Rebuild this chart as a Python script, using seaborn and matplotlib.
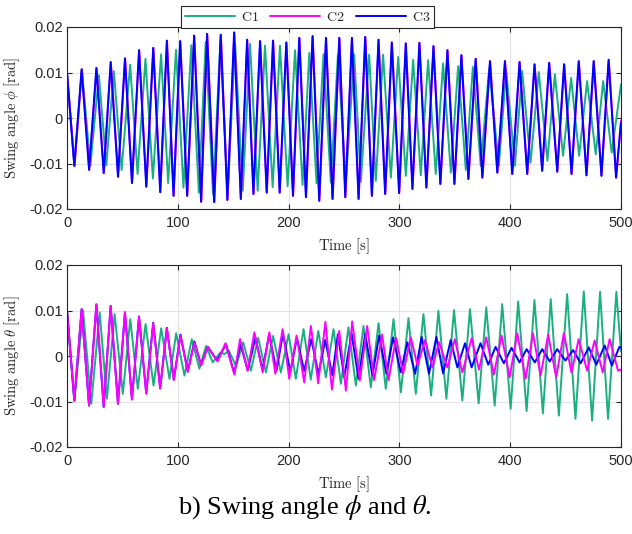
import numpy as np
import pandas as pd
import matplotlib
matplotlib.use("Agg")
import matplotlib.pyplot as plt
import seaborn as sns
from matplotlib.ticker import FixedLocator, FixedFormatter

# ---------------- data (extrema) ----------------
series_names = ["C1", "C2", "C3"]
series_colors = ["#1aaf80", "#ff00ff", "#0000ff"]

# top panel: swing angle phi [rad]
phi_c1_t = [0, 6.6, 13.4, 21.1, 28.8, 35.5, 42.3, 49.3, 57.0, 63.7, 70.8, 77.5, 84.9, 91.3, 98.4, 105.1,
            112.2, 119.0, 125.2, 131.8, 138.4, 145.0, 151.7, 158.6, 165.2, 172.1, 178.7, 185.6, 192.2,
            199.1, 205.8, 212.6, 218.7, 225.2, 231.5, 238.1, 244.5, 251.7, 259.2, 265.2, 272.7, 278.7,
            285.3, 292.3, 298.9, 305.8, 312.4, 319.3, 325.9, 332.8, 339.4, 346.4, 353.0, 359.9, 366.3,
            373.4, 381.0, 389.8, 396.4, 404.3, 410.8, 418.4, 425.8, 433.6, 440.3, 447.7, 455.0, 462.2,
            469.4, 477.2, 483.9, 491.6, 500]
phi_c1_v = [0.0100, -0.0105, 0.0106, -0.0105, 0.0094, -0.0104, 0.0103, -0.0114, 0.0117, -0.0123, 0.0130,
            -0.0133, 0.0140, -0.0143, 0.0150, -0.0153, 0.0160, -0.0164, 0.0167, -0.0168, 0.0168, -0.0166,
            0.0165, -0.0160, 0.0163, -0.0160, 0.0159, -0.0152, 0.0159, -0.0150, 0.0149, -0.0147, 0.0143,
            -0.0143, 0.0140, -0.0142, 0.0138, -0.0140, 0.0140, -0.0140, 0.0139, -0.0138, 0.0139, -0.0131,
            0.0134, -0.0127, 0.0128, -0.0126, 0.0127, -0.0123, 0.0120, -0.0120, 0.0114, -0.0114, 0.0112,
            -0.0105, 0.0108, -0.0105, 0.0105, -0.0105, 0.0103, -0.0098, 0.0101, -0.0094, 0.0096, -0.0083,
            0.0088, -0.0083, 0.0081, -0.0080, 0.0081, -0.0076, 0.0074]

phi_c2_t = [0, 6.8, 13.4, 20.1, 26.7, 33.3, 39.6, 46.2, 52.5, 58.8, 65.2, 71.7, 78.0, 84.3, 90.3, 96.3,
            102.3, 108.6, 114.9, 121.2, 126.6, 133.0, 138.9, 144.9, 151.0, 157.0, 162.7, 168.4, 174.4,
            180.4, 186.1, 192.1, 198.1, 204.1, 209.8, 215.8, 221.8, 227.8, 233.9, 239.8, 245.9, 251.3,
            257.3, 263.3, 269.3, 275.3, 281.3, 287.3, 293.3, 299.9, 305.9, 311.9, 318.2, 324.5, 330.9,
            337.1, 343.5, 349.8, 356.1, 362.4, 369.0, 375.0, 381.9, 388.5, 395.4, 402.0, 408.6, 415.5,
            422.1, 429.0, 435.3, 442.6, 448.8, 455.5, 462.0, 469.0, 475.5, 482.5, 489.0, 495.7, 500]
phi_c2_v = [0.0100, -0.0106, 0.0107, -0.0114, 0.0110, -0.0121, 0.0123, -0.0129, 0.0131, -0.0143, 0.0149,
            -0.0151, 0.0154, -0.0163, 0.0170, -0.0171, 0.0169, -0.0171, 0.0181, -0.0184, 0.0185, -0.0185,
            0.0183, -0.0180, 0.0188, -0.0178, 0.0172, -0.0167, 0.0169, -0.0164, 0.0170, -0.0164, 0.0166,
            -0.0171, 0.0176, -0.0174, 0.0180, -0.0182, 0.0176, -0.0178, 0.0176, -0.0174, 0.0176, -0.0178,
            0.0178, -0.0171, 0.0172, -0.0167, 0.0166, -0.0165, 0.0164, -0.0156, 0.0165, -0.0153, 0.0158,
            -0.0145, 0.0149, -0.0145, 0.0138, -0.0134, 0.0130, -0.0131, 0.0125, -0.0120, 0.0125, -0.0123,
            0.0123, -0.0123, 0.0118, -0.0116, 0.0121, -0.0118, 0.0118, -0.0123, 0.0125, -0.0126, 0.0125,
            -0.0127, 0.0128, -0.0131, -0.0006]

phi_c3_t = [0, 6.6, 13.2, 19.9, 26.5, 33.1, 39.4, 46.0, 52.3, 58.6, 65.0, 71.5, 77.8, 84.1, 90.1, 96.1,
            102.1, 108.4, 114.7, 121.0, 126.4, 132.8, 138.7, 144.7, 150.8, 156.8, 162.5, 168.2, 174.2,
            180.2, 185.9, 191.9, 197.9, 203.9, 209.6, 215.6, 221.6, 227.6, 233.7, 239.6, 245.7, 251.1,
            257.1, 263.1, 269.1, 275.1, 281.1, 287.1, 293.1, 299.7, 305.7, 311.7, 318.0, 324.3, 330.7,
            336.9, 343.3, 349.6, 355.9, 362.2, 368.8, 374.8, 381.7, 388.3, 395.2, 401.8, 408.4, 415.3,
            421.9, 428.8, 435.1, 442.4, 448.6, 455.3, 461.8, 468.8, 475.3, 482.3, 488.8, 495.5, 500]
phi_c3_v = [0.0100, -0.0105, 0.0107, -0.0114, 0.0110, -0.0121, 0.0123, -0.0129, 0.0131, -0.0143, 0.0149,
            -0.0151, 0.0154, -0.0163, 0.0170, -0.0171, 0.0169, -0.0171, 0.0181, -0.0184, 0.0185, -0.0185,
            0.0183, -0.0180, 0.0188, -0.0178, 0.0172, -0.0167, 0.0169, -0.0164, 0.0170, -0.0164, 0.0166,
            -0.0171, 0.0176, -0.0174, 0.0180, -0.0182, 0.0176, -0.0178, 0.0176, -0.0174, 0.0176, -0.0178,
            0.0178, -0.0171, 0.0172, -0.0167, 0.0166, -0.0165, 0.0164, -0.0156, 0.0165, -0.0153, 0.0158,
            -0.0145, 0.0149, -0.0145, 0.0138, -0.0134, 0.0130, -0.0131, 0.0125, -0.0120, 0.0125, -0.0123,
            0.0123, -0.0123, 0.0118, -0.0116, 0.0121, -0.0118, 0.0118, -0.0123, 0.0125, -0.0126, 0.0125,
            -0.0127, 0.0128, -0.0131, -0.0010]

# bottom panel: swing angle theta [rad]
theta_c1_t = [0, 6.6, 14.5, 21.9, 29.5, 36.0, 43.0, 50.4, 57.1, 63.9, 70.9, 78.1, 85.0, 92.5, 98.5, 106.0,
              112.6, 119.5, 125.5, 131.6, 138.5, 142.0, 146.0, 152.5, 159.0, 166.0, 172.5, 179.5, 186.0,
              193.0, 200.0, 206.5, 213.5, 220.0, 226.8, 233.6, 240.5, 247.2, 254.0, 260.7, 267.6, 274.2,
              281.2, 287.7, 294.7, 301.3, 308.2, 314.8, 321.7, 328.6, 335.2, 342.4, 349.3, 356.8, 363.7,
              371.5, 378.4, 386.0, 392.8, 400.4, 407.2, 414.8, 421.9, 429.5, 436.6, 443.9, 451.4, 458.9,
              466.4, 473.9, 481.1, 488.3, 495.8, 500]
theta_c1_v = [0.0100, -0.0098, 0.0100, -0.0105, 0.0096, -0.0094, 0.0092, -0.0083, 0.0081, -0.0072, 0.0070,
              -0.0065, 0.0061, -0.0050, 0.0050, -0.0043, 0.0037, -0.0028, 0.0022, -0.0014, 0.0008, 0.0004,
              0.0012, -0.0022, 0.0030, -0.0032, 0.0040, -0.0036, 0.0044, -0.0036, 0.0048, -0.0050, 0.0059,
              -0.0052, 0.0055, -0.0047, 0.0059, -0.0061, 0.0063, -0.0065, 0.0066, -0.0069, 0.0072, -0.0072,
              0.0081, -0.0080, 0.0083, -0.0083, 0.0092, -0.0087, 0.0099, -0.0094, 0.0101, -0.0098, 0.0103,
              -0.0104, 0.0107, -0.0109, 0.0114, -0.0116, 0.0120, -0.0121, 0.0123, -0.0126, 0.0125, -0.0131,
              0.0136, -0.0138, 0.0142, -0.0142, 0.0141, -0.0138, 0.0141, 0.0010]

theta_c2_t = [0, 6.6, 13.2, 19.9, 26.5, 33.1, 39.4, 46.0, 52.3, 58.6, 65.0, 71.5, 77.8, 84.1, 90.1, 96.4,
              102.4, 109.0, 115.0, 121.0, 127.1, 136.0, 143.0, 151.1, 156.2, 163.1, 169.1, 176.6, 182.6,
              188.0, 194.6, 200.6, 207.2, 214.1, 220.1, 226.7, 233.2, 239.1, 245.7, 251.7, 257.4, 264.3,
              270.9, 277.2, 284.4, 290.2, 297.0, 303.4, 310.3, 316.3, 323.2, 329.8, 335.8, 343.3, 350.0,
              356.8, 365.2, 371.8, 378.4, 385.3, 392.2, 399.5, 406.4, 413.9, 420.5, 427.4, 434.3, 441.5,
              448.4, 455.3, 461.8, 469.4, 476.2, 483.5, 489.7, 497.3, 500]
theta_c2_v = [0.0100, -0.0098, 0.0103, -0.0109, 0.0114, -0.0112, 0.0110, -0.0105, 0.0096, -0.0096, 0.0086,
              -0.0083, 0.0072, -0.0072, 0.0061, -0.0053, 0.0045, -0.0035, 0.0030, -0.0021, 0.0020, -0.0012,
              0.0028, -0.0041, 0.0037, -0.0032, 0.0052, -0.0036, 0.0052, -0.0039, 0.0059, -0.0050, 0.0045,
              -0.0058, 0.0066, -0.0060, 0.0075, -0.0074, 0.0055, -0.0076, 0.0076, -0.0054, 0.0066, -0.0053,
              0.0047, -0.0053, 0.0040, -0.0038, 0.0041, -0.0021, 0.0035, -0.0025, 0.0030, -0.0025, 0.0037,
              -0.0036, 0.0039, -0.0030, 0.0041, -0.0041, 0.0045, -0.0047, 0.0050, -0.0050, 0.0050, -0.0043,
              0.0047, -0.0047, 0.0050, -0.0036, 0.0037, -0.0032, 0.0034, -0.0036, 0.0037, -0.0032, -0.0030]

theta_c3_t = [0, 6.6, 13.2, 19.9, 26.5, 33.1, 39.4, 46.0, 52.3, 58.6, 65.0, 71.5, 77.8, 84.1, 90.1, 96.4,
              102.4, 109.0, 115.0, 121.0, 127.1, 135.5, 143.5, 151.0, 156.5, 163.1, 170.0, 176.5, 182.5,
              189.0, 195.0, 201.5, 207.5, 214.0, 220.5, 227.0, 233.0, 239.5, 244.5, 250.2, 256.8, 263.1,
              269.1, 275.7, 281.7, 288.3, 294.3, 301.2, 307.2, 314.2, 320.1, 326.7, 333.4, 339.4, 346.3,
              352.3, 359.2, 365.2, 373.2, 380.2, 386.8, 394.3, 401.2, 408.4, 414.8, 422.2, 428.9, 435.7,
              442.4, 449.8, 456.8, 463.6, 470.9, 477.7, 485.3, 491.8, 498.5, 500]
theta_c3_v = [0.0100, -0.0098, 0.0103, -0.0109, 0.0113, -0.0112, 0.0110, -0.0105, 0.0096, -0.0095, 0.0087,
              -0.0082, 0.0073, -0.0071, 0.0062, -0.0052, 0.0047, -0.0034, 0.0032, -0.0020, 0.0020, -0.0010,
              0.0026, -0.0038, 0.0027, -0.0032, 0.0040, -0.0030, 0.0048, -0.0033, 0.0050, -0.0036, 0.0040,
              -0.0033, 0.0037, -0.0040, 0.0035, -0.0042, 0.0048, -0.0047, 0.0050, -0.0050, 0.0048, -0.0043,
              0.0045, -0.0039, 0.0041, -0.0036, 0.0030, -0.0039, 0.0042, -0.0039, 0.0042, -0.0038, 0.0035,
              -0.0025, 0.0028, -0.0025, 0.0028, -0.0019, 0.0020, -0.0016, 0.0018, -0.0014, 0.0015, -0.0014,
              0.0015, -0.0012, 0.0015, -0.0010, 0.0013, -0.0016, 0.0019, -0.0019, 0.0023, -0.0021, 0.0020,
              0.0018]

x_ticks = [0, 100, 200, 300, 400, 500]
y_ticks = [-0.02, -0.01, 0, 0.01, 0.02]
y_tick_labels = ["-0.02", "-0.01", "0", "0.01", "0.02"]
y_labels = [r"$\mathrm{Swing\ angle}\ \phi\ \mathrm{[rad]}$", r"$\mathrm{Swing\ angle}\ \theta\ \mathrm{[rad]}$"]
x_label = r"$\mathrm{Time\ [s]}$"
caption = r"b) Swing angle $\phi$ and $\theta$."

# ---------------- figure ----------------
sns.set_style("white")
plt.rcParams["font.family"] = ["Liberation Sans", "DejaVu Sans"]
plt.rcParams["mathtext.fontset"] = "cm"

W, H = 632, 534
fig = plt.figure(figsize=(W / 100, H / 100), dpi=100)
ax_top = fig.add_axes([67 / W, 1 - 209 / H, 554 / W, 182 / H])
ax_bot = fig.add_axes([67 / W, 1 - 447 / H, 554 / W, 182 / H])


def make_df(ts, vs):
    frames = []
    for name, t, v in zip(series_names, ts, vs):
        frames.append(pd.DataFrame({"time": t, "value": v, "series": name}))
    return pd.concat(frames, ignore_index=True)


df_top = make_df([phi_c1_t, phi_c2_t, phi_c3_t], [phi_c1_v, phi_c2_v, phi_c3_v])
df_bot = make_df([theta_c1_t, theta_c2_t, theta_c3_t], [theta_c1_v, theta_c2_v, theta_c3_v])

palette = dict(zip(series_names, series_colors))
panels = [(ax_top, df_top, y_labels[0], ["C1", "C2", "C3"]),
          (ax_bot, df_bot, y_labels[1], ["C1", "C3", "C2"])]
for ax, df, ylab, order in panels:
    for name in order:
        sub = df[df["series"] == name]
        sns.lineplot(data=sub, x="time", y="value", color=palette[name], lw=1.4,
                     estimator=None, sort=False, ax=ax, label=name, legend=False,
                     solid_joinstyle="round")
    ax.set_xlim(0, 500)
    ax.set_ylim(-0.02, 0.02)
    ax.xaxis.set_major_locator(FixedLocator(x_ticks))
    ax.yaxis.set_major_locator(FixedLocator(y_ticks))
    ax.yaxis.set_major_formatter(FixedFormatter(y_tick_labels))
    ax.grid(True, color="#e3e3e3", lw=0.8)
    ax.set_axisbelow(True)
    for sp in ax.spines.values():
        sp.set_color("#262626")
        sp.set_linewidth(0.8)
        sp.set_visible(True)
    ax.tick_params(direction="in", length=3.6, width=0.8, colors="#262626", labelsize=10.5,
                   top=True, right=True, bottom=True, left=True)
    ax.tick_params(axis="x", pad=5)
    ax.tick_params(axis="y", pad=3)
    ax.set_xlabel(x_label, fontsize=10.5, color="#262626")
    ax.set_ylabel(ylab, fontsize=10.5, color="#262626")
    ax.xaxis.set_label_coords(0.5, -0.15)
    ax.yaxis.set_label_coords(-0.082, 0.5)

handles, labels = ax_top.get_legend_handles_labels()
leg = fig.legend(handles[:3], [r"$\mathrm{C1}$", r"$\mathrm{C2}$", r"$\mathrm{C3}$"],
                 loc="center", bbox_to_anchor=(307.5 / W, 1 - 17 / H), ncol=3, frameon=True,
                 fancybox=False, edgecolor="#262626", fontsize=10, handlelength=3.6,
                 columnspacing=0.85, handletextpad=0.4, borderpad=0.3, borderaxespad=0,
                 framealpha=1)
leg.get_frame().set_linewidth(0.8)

fig.text(305 / W, 1 - 507 / H, caption, ha="center", va="center", fontsize=19,
         family="Liberation Serif", math_fontfamily="stix", color="black")

fig.savefig("out.png", dpi=100)
